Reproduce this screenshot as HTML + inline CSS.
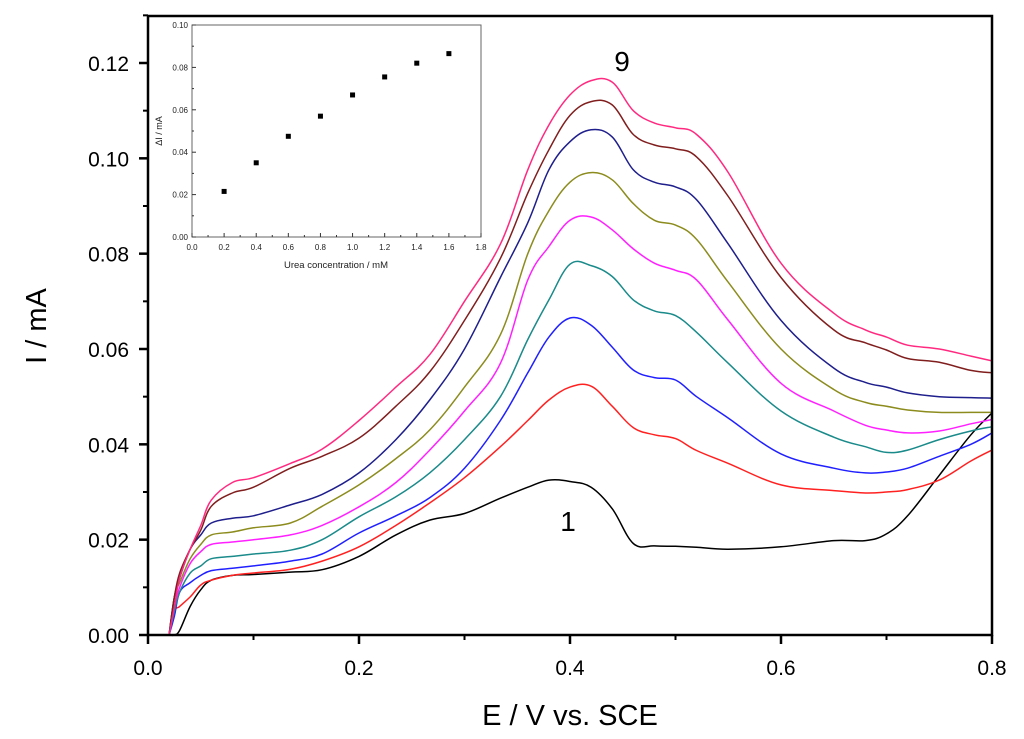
<!DOCTYPE html>
<html><head><meta charset="utf-8"><style>
html,body{margin:0;padding:0;background:#fff;}
svg{display:block;font-family:"Liberation Sans",sans-serif;}
</style></head><body>
<svg id="chart" width="1024" height="739" viewBox="0 0 1024 739" xmlns="http://www.w3.org/2000/svg"></svg>
<script>
const E = [0.02,0.025,0.03,0.04,0.05,0.06,0.08,0.10,0.135,0.165,0.20,0.235,0.267,0.30,0.334,0.36,0.38,0.40,0.42,0.44,0.46,0.48,0.50,0.52,0.55,0.60,0.65,0.68,0.70,0.72,0.75,0.78,0.80];
const curve1 = [0,0,0.001,0.006,0.0095,0.0115,0.0125,0.0127,0.0132,0.0137,0.0165,0.021,0.0241,0.0255,0.0287,0.031,0.0325,0.0322,0.031,0.0265,0.0192,0.0187,0.0186,0.0184,0.018,0.0185,0.0198,0.0198,0.0212,0.025,0.0335,0.042,0.0466];
const curve2 = [0,0.005,0.006,0.008,0.0105,0.0115,0.0125,0.013,0.0138,0.0155,0.0185,0.023,0.0277,0.033,0.0395,0.045,0.0493,0.052,0.0522,0.048,0.0435,0.042,0.0412,0.0387,0.036,0.0315,0.0303,0.0298,0.030,0.0305,0.0325,0.0365,0.0388];
const curve3 = [0,0.004,0.009,0.011,0.0125,0.0135,0.014,0.0145,0.0155,0.017,0.0214,0.025,0.0288,0.035,0.045,0.055,0.0625,0.0665,0.065,0.0604,0.0556,0.054,0.0535,0.050,0.0455,0.038,0.035,0.034,0.0342,0.035,0.0375,0.040,0.0424];
const curve4 = [0,0.005,0.009,0.013,0.0145,0.016,0.0165,0.017,0.0178,0.020,0.0248,0.029,0.034,0.041,0.050,0.062,0.0703,0.0778,0.0775,0.0752,0.0703,0.068,0.067,0.0635,0.057,0.047,0.0415,0.0395,0.0383,0.0388,0.041,0.0428,0.0437];
const curve5 = [0,0.006,0.01,0.015,0.0175,0.019,0.0195,0.020,0.021,0.023,0.0269,0.032,0.0388,0.047,0.057,0.0745,0.0815,0.087,0.0877,0.085,0.081,0.078,0.0765,0.0745,0.066,0.0528,0.047,0.044,0.043,0.0424,0.0428,0.0443,0.0452];
const curve6 = [0,0.008,0.011,0.016,0.019,0.021,0.0216,0.0225,0.0235,0.027,0.0315,0.037,0.043,0.052,0.063,0.080,0.089,0.095,0.097,0.0955,0.0905,0.087,0.086,0.083,0.074,0.060,0.0515,0.0488,0.048,0.0472,0.0467,0.0467,0.0467];
const curve7 = [0,0.008,0.012,0.018,0.021,0.0235,0.0245,0.025,0.0273,0.0295,0.034,0.041,0.0493,0.060,0.075,0.0865,0.0976,0.1035,0.106,0.1045,0.0976,0.095,0.094,0.0913,0.082,0.066,0.056,0.053,0.052,0.0508,0.050,0.0498,0.0497];
const curve8 = [0,0.008,0.013,0.018,0.022,0.027,0.0298,0.031,0.035,0.0375,0.0413,0.048,0.0552,0.066,0.079,0.0927,0.1018,0.109,0.1119,0.1112,0.105,0.1028,0.102,0.1003,0.092,0.075,0.064,0.0613,0.0598,0.058,0.0572,0.0555,0.055];
const curve9 = [0,0.006,0.012,0.018,0.023,0.0283,0.032,0.033,0.036,0.039,0.045,0.052,0.0588,0.070,0.082,0.0976,0.107,0.1133,0.1163,0.116,0.110,0.1074,0.1064,0.105,0.097,0.078,0.0675,0.064,0.0625,0.0608,0.060,0.0585,0.0575];
const xTicks = ["0.0","0.2","0.4","0.6","0.8"];
const yTicks = ["0.00","0.02","0.04","0.06","0.08","0.10","0.12"];
const insetConc = [0.2,0.4,0.6,0.8,1.0,1.2,1.4,1.6];
const insetDI = [0.0215,0.035,0.0475,0.057,0.067,0.0755,0.082,0.0865];
const insetXTicks = ["0.0","0.2","0.4","0.6","0.8","1.0","1.2","1.4","1.6","1.8"];
const insetYTicks = ["0.00","0.02","0.04","0.06","0.08","0.10"];

const NS="http://www.w3.org/2000/svg";
const svg=document.getElementById('chart');
function mk(tag,attrs,parent){const e=document.createElementNS(NS,tag);for(const k in attrs)e.setAttribute(k,attrs[k]);(parent||svg).appendChild(e);return e;}
const L=148,R=992,T=16,B=635;
const sx=v=>L+(v-0)/0.8*(R-L);
const sy=v=>B-(v/0.12)*(B-63);
function smoothPath(pts){
  let d='M'+pts[0][0].toFixed(1)+','+pts[0][1].toFixed(1);
  const k=0.18;
  for(let i=0;i<pts.length-1;i++){
    const p0=pts[Math.max(0,i-1)],p1=pts[i],p2=pts[i+1],p3=pts[Math.min(pts.length-1,i+2)];
    const c1x=p1[0]+(p2[0]-p0[0])*k,c1y=p1[1]+(p2[1]-p0[1])*k;
    const c2x=p2[0]-(p3[0]-p1[0])*k,c2y=p2[1]-(p3[1]-p1[1])*k;
    d+=' C'+c1x.toFixed(1)+','+c1y.toFixed(1)+' '+c2x.toFixed(1)+','+c2y.toFixed(1)+' '+p2[0].toFixed(1)+','+p2[1].toFixed(1);
  }
  return d;
}
const curves=[curve1,curve2,curve3,curve4,curve5,curve6,curve7,curve8,curve9];
const colors=["#000000","#ff2020","#2020ff","#1a8a8a","#ff20ff","#8c8c1e","#1e1e8c","#801e1e","#ff2a80"];
const gC=mk('g',{});


curves.forEach((c,i)=>{
  const pts=c.map((v,j)=>[sx(E[j]),sy(v)]);
  const p=mk('path',{d:smoothPath(pts),fill:'none',stroke:colors[i],'stroke-width':1.5,'stroke-linejoin':'round'},gC);
  
  
});
const frame=mk('rect',{x:L,y:T,width:R-L,height:B-T,fill:'none',stroke:'#000','stroke-width':2.5});


xTicks.forEach((t,i)=>{
  const v=i*0.2,x=sx(v);
  const ln=mk('line',{x1:x,y1:B,x2:x,y2:B+9,stroke:'#000','stroke-width':2.5});
  
  
  if(i<xTicks.length-1){const m=mk('line',{x1:sx(v+0.1),y1:B,x2:sx(v+0.1),y2:B+5,stroke:'#000','stroke-width':2});
  
  }
  const tx=mk('text',{x:x,y:B+40,'font-size':21,'text-anchor':'middle',fill:'#000'});
  tx.textContent=t;
  
  
});
yTicks.forEach((t,i)=>{
  const v=i*0.02,y=sy(v);
  const ln=mk('line',{x1:L-9,y1:y,x2:L,y2:y,stroke:'#000','stroke-width':2.5});
  
  
  const m=mk('line',{x1:L-5,y1:sy(v+0.01),x2:L,y2:sy(v+0.01),stroke:'#000','stroke-width':2});
  
  
  const tx=mk('text',{x:L-19,y:y+8,'font-size':21,'text-anchor':'end',fill:'#000'});
  tx.textContent=t;
  
  
});
const xt=mk('text',{x:570,y:725,'font-size':29,'text-anchor':'middle'});
xt.textContent='E / V vs. SCE';


const yt=mk('text',{x:46,y:326,'font-size':29,'text-anchor':'middle',transform:'rotate(-90 46 326)'});
yt.textContent='I / mA';


const l9=mk('text',{x:622,y:71,'font-size':28,'text-anchor':'middle'});
l9.textContent='9';


const l1=mk('text',{x:568,y:531,'font-size':28,'text-anchor':'middle'});
l1.textContent='1';



const iL=192,iR=481,iT=25,iB=237;
const ix=v=>iL+v/1.8*(iR-iL);
const iy=v=>iB-v/0.10*(iB-iT);
const gI=mk('g',{});


const ifr=mk('rect',{x:iL,y:iT,width:iR-iL,height:iB-iT,fill:'#fff',stroke:'#666','stroke-width':1},gI);


insetXTicks.forEach((t,i)=>{
  const v=i*0.2,x=ix(v);
  const ln=mk('line',{x1:x,y1:iB,x2:x,y2:iB-4,stroke:'#333','stroke-width':1},gI);
  
  
  if(i<insetXTicks.length-1){const m=mk('line',{x1:ix(v+0.1),y1:iB,x2:ix(v+0.1),y2:iB-2,stroke:'#333','stroke-width':1},gI);
  
  }
  const tx=mk('text',{x:x,y:iB+13,'font-size':8,'text-anchor':'middle',fill:'#222'},gI);
  tx.textContent=t;
  
  
});
insetYTicks.forEach((t,i)=>{
  const v=i*0.02,y=iy(v);
  const ln=mk('line',{x1:iL,y1:y,x2:iL+4,y2:y,stroke:'#333','stroke-width':1},gI);
  
  
  if(i<insetYTicks.length-1){const m=mk('line',{x1:iL,y1:iy(v+0.01),x2:iL+2,y2:iy(v+0.01),stroke:'#333','stroke-width':1},gI);
  
  }
  const tx=mk('text',{x:iL-4,y:y+3,'font-size':8,'text-anchor':'end',fill:'#222'},gI);
  tx.textContent=t;
  
  
});
insetConc.forEach((c,i)=>{
  const r=mk('rect',{x:ix(c)-2.5,y:iy(insetDI[i])-2.5,width:5,height:5,fill:'#000'},gI);
  
  
});
const ixt=mk('text',{x:336,y:268,'font-size':9.5,'text-anchor':'middle',fill:'#222'},gI);
ixt.textContent='Urea concentration / mM';


const iyt=mk('text',{x:162,y:131,'font-size':9,'text-anchor':'middle',fill:'#222',transform:'rotate(-90 162 131)'},gI);
iyt.textContent='ΔI / mA';


</script>
</body></html>
